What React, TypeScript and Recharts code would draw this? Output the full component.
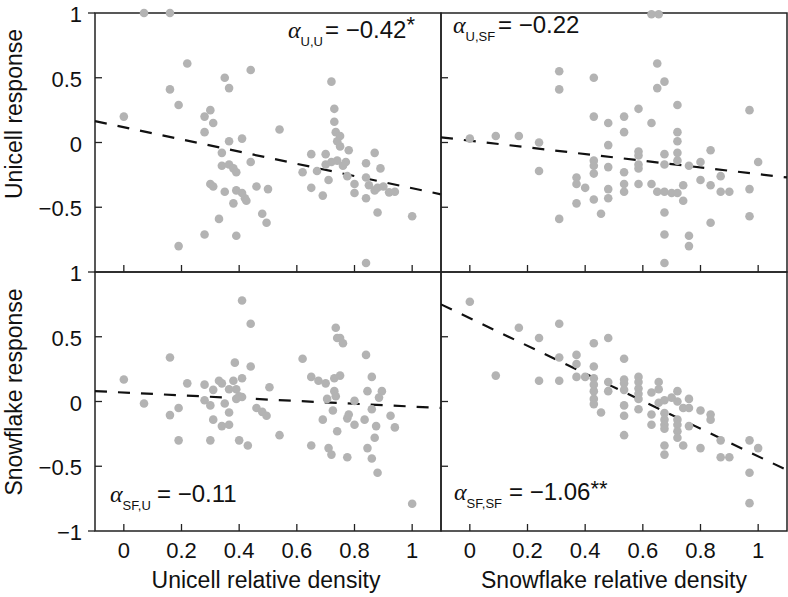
import React from "react";
import { ScatterChart, Scatter, XAxis, YAxis, ReferenceArea, ReferenceLine } from "recharts";

const xTicks = [0, 0.2, 0.4, 0.6, 0.8, 1];
const yTicksTopLeft = [-0.5, 0, 0.5, 1];
const yTicksBottomLeft = [-1, -0.5, 0, 0.5, 1];
const yTicksRight = [-0.5, 0, 0.5];

// fitted lines are drawn across the whole x range
const fitX = [-0.1, 1.1];

// unicell relative density vs unicell response
const uuPoints = [
  [0.07, 1.0], [0.16, 1.0], [0.22, 0.61], [0.44, 0.56], [0.35, 0.5], [0.365, 0.42], [0.16, 0.41],
  [0.19, 0.29], [0.0, 0.2], [0.3, 0.25], [0.28, 0.2], [0.31, 0.15], [0.28, 0.08], [0.365, 0.01],
  [0.41, 0.03], [0.34, -0.08], [0.44, -0.15], [0.34, -0.18], [0.365, -0.17], [0.38, -0.2],
  [0.39, -0.23], [0.3, -0.32], [0.31, -0.34], [0.35, -0.38], [0.39, -0.37], [0.41, -0.39],
  [0.42, -0.43], [0.425, -0.45], [0.38, -0.47], [0.46, -0.34], [0.5, -0.36], [0.48, -0.55],
  [0.495, -0.62], [0.33, -0.59], [0.28, -0.71], [0.39, -0.72], [0.19, -0.8],
  [0.54, 0.1], [0.72, 0.47], [0.73, 0.26], [0.73, 0.16], [0.735, 0.08], [0.75, 0.05], [0.74, 0.01],
  [0.75, -0.03], [0.78, -0.06], [0.65, -0.09], [0.7, -0.09], [0.72, -0.15], [0.7, -0.17],
  [0.74, -0.14], [0.77, -0.15], [0.76, -0.18], [0.62, -0.23], [0.67, -0.22], [0.775, -0.26],
  [0.71, -0.29], [0.65, -0.35], [0.69, -0.41], [0.8, -0.32], [0.8, -0.39], [0.87, -0.08],
  [0.84, -0.16], [0.89, -0.2], [0.84, -0.27], [0.85, -0.33], [0.87, -0.37], [0.88, -0.35],
  [0.9, -0.34], [0.84, -0.43], [0.92, -0.385], [0.94, -0.38], [0.88, -0.54], [1.0, -0.57],
  [0.84, -0.93],
];
const uuFit = [0.165, -0.4];

// snowflake relative density vs unicell response
const usfPoints = [
  [0.0, 0.03], [0.09, 0.05], [0.17, 0.05], [0.24, 0.0], [0.24, -0.22], [0.31, 0.55], [0.31, 0.41],
  [0.31, -0.59], [0.43, 0.5], [0.43, 0.2], [0.43, -0.14], [0.43, -0.18], [0.43, -0.24],
  [0.37, -0.27], [0.37, -0.32], [0.4, -0.35], [0.37, -0.47], [0.43, -0.44], [0.455, -0.55],
  [0.48, 0.15], [0.48, -0.02], [0.48, -0.19], [0.48, -0.36], [0.48, -0.43],
  [0.63, 0.99], [0.655, 0.99], [0.65, 0.61], [0.675, 0.47], [0.65, 0.42], [0.72, 0.29],
  [0.585, 0.26], [0.535, 0.2], [0.63, 0.15], [0.535, 0.08], [0.72, 0.08], [0.72, 0.01],
  [0.585, -0.07], [0.585, -0.1], [0.675, -0.09], [0.72, -0.08], [0.72, -0.14], [0.585, -0.17],
  [0.585, -0.2], [0.675, -0.17], [0.76, -0.18], [0.535, -0.23], [0.535, -0.32], [0.535, -0.38],
  [0.585, -0.32], [0.63, -0.32], [0.65, -0.38], [0.675, -0.38], [0.7, -0.39], [0.72, -0.39],
  [0.74, -0.33], [0.74, -0.45], [0.675, -0.54], [0.675, -0.71], [0.675, -0.93], [0.76, -0.72],
  [0.76, -0.8], [0.8, -0.15], [0.8, -0.29], [0.835, -0.06], [0.835, -0.33], [0.835, -0.62],
  [0.87, -0.26], [0.87, -0.38], [0.9, -0.38], [0.97, 0.25], [1.0, -0.15], [0.97, -0.36],
  [0.97, -0.57],
];
const usfFit = [0.04, -0.27];

// unicell relative density vs snowflake response
const sfuPoints = [
  [0.0, 0.17], [0.07, -0.015], [0.16, 0.34], [0.16, -0.105], [0.19, -0.05], [0.19, -0.3],
  [0.22, 0.14], [0.28, 0.13], [0.28, 0.01], [0.3, -0.03], [0.3, -0.3], [0.31, 0.09], [0.31, -0.14],
  [0.33, 0.16], [0.34, 0.14], [0.34, -0.19], [0.35, -0.015], [0.365, 0.095], [0.365, -0.085],
  [0.365, -0.18], [0.38, 0.16], [0.385, 0.3], [0.39, 0.095], [0.39, 0.02], [0.41, 0.18],
  [0.41, 0.78], [0.44, 0.6], [0.44, 0.27], [0.4, 0.04], [0.41, 0.035], [0.4, -0.3], [0.43, -0.34],
  [0.46, -0.05], [0.48, -0.08], [0.495, -0.11], [0.505, 0.11],
  [0.54, -0.26], [0.62, 0.33], [0.65, 0.19], [0.675, 0.16], [0.7, 0.14], [0.73, 0.18], [0.75, 0.2],
  [0.735, 0.57], [0.74, 0.49], [0.75, 0.49], [0.76, 0.45], [0.73, 0.08], [0.735, 0.04],
  [0.705, 0.02], [0.725, -0.07], [0.69, -0.14], [0.65, -0.34], [0.71, -0.36], [0.72, -0.41],
  [0.74, -0.23], [0.775, -0.13], [0.78, -0.1], [0.775, -0.43], [0.8, 0.005], [0.8, -0.18],
  [0.84, 0.36], [0.86, 0.19], [0.845, 0.08], [0.895, 0.08], [0.885, 0.03], [0.86, -0.06],
  [0.835, -0.14], [0.875, -0.19], [0.87, -0.28], [0.845, -0.36], [0.86, -0.44], [0.88, -0.55],
  [0.925, -0.11], [0.94, -0.2], [1.0, -0.79],
];
const sfuFit = [0.08, -0.05];

// snowflake relative density vs snowflake response
const sfsfPoints = [
  [0.0, 0.77], [0.09, 0.2], [0.17, 0.57], [0.24, 0.49], [0.24, 0.16], [0.31, 0.6], [0.31, 0.34],
  [0.31, 0.16], [0.37, 0.36], [0.37, 0.29], [0.37, 0.19], [0.4, 0.19], [0.43, 0.45], [0.43, 0.27],
  [0.43, 0.18], [0.43, 0.13], [0.43, 0.08], [0.43, 0.02], [0.43, -0.02], [0.455, -0.085],
  [0.48, 0.49], [0.48, 0.15], [0.48, 0.08],
  [0.535, 0.33], [0.535, 0.17], [0.535, 0.14], [0.535, 0.09], [0.535, -0.03], [0.535, -0.11],
  [0.535, -0.26], [0.585, 0.19], [0.585, 0.15], [0.585, 0.1], [0.585, 0.06], [0.585, 0.02],
  [0.585, -0.06], [0.63, 0.07], [0.63, -0.1], [0.63, -0.18], [0.655, 0.15], [0.655, 0.095],
  [0.655, -0.01], [0.675, 0.01], [0.675, -0.09], [0.675, -0.14], [0.675, -0.18], [0.675, -0.21],
  [0.675, -0.34], [0.675, -0.41], [0.7, 0.03], [0.72, 0.08], [0.72, 0.0], [0.72, -0.14],
  [0.72, -0.18], [0.72, -0.23], [0.72, -0.28], [0.74, -0.05], [0.74, -0.34], [0.76, 0.02],
  [0.76, -0.05], [0.76, -0.19], [0.8, -0.07], [0.8, -0.36], [0.835, -0.1], [0.835, -0.14],
  [0.87, -0.3], [0.87, -0.43], [0.9, -0.43], [0.97, -0.3], [1.0, -0.36], [0.97, -0.55],
  [0.97, -0.785],
];
const sfsfFit = [0.75, -0.53];

const PLOT_W = 346;
const PLOT_H = 259;
const DOT = "#b3b3b3";
const INK = "#222";
const FONT = '"Liberation Sans", Arial, Helvetica, sans-serif';

const fmt = (v: number) => (v < 0 ? "\u2212" + Math.abs(v) : String(v));

type PanelProps = {
  points: number[][];
  fit: number[];
  left: number;
  top: number;
  yTicks: number[];
  showX: boolean;
  showY: boolean;
  mL: number;
  mR: number;
  mT: number;
  mB: number;
};

function Panel({ points, fit, left, top, yTicks, showX, showY, mL, mR, mT, mB }: PanelProps) {
  const data = points.map(([x, y]) => ({ x, y }));
  const W = PLOT_W + mL + mR;
  const H = PLOT_H + mT + mB;

  const xTick = (p: any) => (
    <g>
      <line x1={p.x} y1={p.y} x2={p.x} y2={p.y - 7} stroke={INK} strokeWidth={1.3} />
      {showX && (
        <text x={p.x} y={p.y + 27} textAnchor="middle" fontSize={22} fill="#111" fontFamily={FONT}>
          {fmt(p.payload.value)}
        </text>
      )}
    </g>
  );

  const yTick = (p: any) => {
    const v = p.payload.value;
    const edge = Math.abs(v) === 1;
    return (
      <g>
        <line
          x1={edge ? p.x - 7 : p.x}
          y1={p.y}
          x2={edge ? p.x : p.x + 7}
          y2={p.y}
          stroke={INK}
          strokeWidth={1.3}
        />
        {showY && (
          <text x={p.x - 13} y={p.y + 9} textAnchor="end" fontSize={22} fill="#111" fontFamily={FONT}>
            {fmt(v)}
          </text>
        )}
      </g>
    );
  };

  return (
    <div style={{ position: "absolute", left: left - mL, top: top - mT }}>
      <ScatterChart width={W} height={H} margin={{ top: mT, right: mR, bottom: 0, left: 0 }}>
        <XAxis
          type="number"
          dataKey="x"
          domain={[-0.1, 1.1]}
          ticks={xTicks}
          interval={0}
          height={mB}
          axisLine={false}
          tickLine={false}
          tickSize={0}
          tickMargin={0}
          tick={xTick}
        />
        <YAxis
          type="number"
          dataKey="y"
          domain={[-1, 1]}
          ticks={yTicks}
          interval={0}
          width={mL}
          axisLine={false}
          tickLine={false}
          tickSize={0}
          tickMargin={0}
          tick={yTick}
        />
        <ReferenceArea
          x1={-0.1}
          x2={1.1}
          y1={-1}
          y2={1}
          fill="none"
          fillOpacity={0}
          stroke={INK}
          strokeWidth={1.5}
          ifOverflow="visible"
        />
        <Scatter
          data={data}
          isAnimationActive={false}
          shape={(s: any) => <circle cx={s.cx} cy={s.cy} r={4.3} fill={DOT} />}
        />
        <ReferenceLine
          segment={[
            { x: fitX[0], y: fit[0] },
            { x: fitX[1], y: fit[1] },
          ]}
          stroke="#111"
          strokeWidth={2.2}
          strokeDasharray="12 11"
          ifOverflow="visible"
        />
      </ScatterChart>
    </div>
  );
}

export default function App() {
  const txt = { fontFamily: FONT, fill: "#111" };
  const alpha = { fontFamily: '"Liberation Serif", "Times New Roman", serif', fontStyle: "italic" as const };
  return (
    <div style={{ position: "absolute", left: 0, top: 0, width: 788, height: 597, background: "#fff" }}>
      <Panel points={uuPoints} fit={uuFit} left={95} top={13} yTicks={yTicksTopLeft} showX={false} showY
        mL={95} mR={10} mT={12} mB={10} />
      <Panel points={usfPoints} fit={usfFit} left={441} top={13} yTicks={yTicksRight} showX={false} showY={false}
        mL={10} mR={1} mT={12} mB={10} />
      <Panel points={sfuPoints} fit={sfuFit} left={95} top={272} yTicks={yTicksBottomLeft} showX showY
        mL={95} mR={10} mT={12} mB={60} />
      <Panel points={sfsfPoints} fit={sfsfFit} left={441} top={272} yTicks={yTicksRight} showX showY={false}
        mL={10} mR={1} mT={12} mB={60} />

      <svg width={788} height={597} style={{ position: "absolute", left: 0, top: 0, pointerEvents: "none" }}>
        <text transform="translate(22,114) rotate(-90)" textAnchor="middle" fontSize={23} {...txt}>
          Unicell response
        </text>
        <text transform="translate(22,392) rotate(-90)" textAnchor="middle" fontSize={23} {...txt}>
          Snowflake response
        </text>
        <text x={266} y={588} textAnchor="middle" fontSize={23} {...txt}>
          Unicell relative density
        </text>
        <text x={614} y={588} textAnchor="middle" fontSize={23} {...txt}>
          Snowflake relative density
        </text>

        <text x={288} y={38} fontSize={24} {...txt}>
          <tspan {...alpha}>α</tspan>
          <tspan fontSize={13} dy={8}>U,U</tspan>
          <tspan x={325} dy={-8}>= −0.42</tspan>
          <tspan fontSize={22} dy={-6}>*</tspan>
        </text>
        <text x={453} y={33} fontSize={24} {...txt}>
          <tspan {...alpha}>α</tspan>
          <tspan fontSize={13} dy={8}>U,SF</tspan>
          <tspan x={498} dy={-8}>= −0.22</tspan>
        </text>
        <text x={110} y={502} fontSize={24} {...txt}>
          <tspan {...alpha}>α</tspan>
          <tspan fontSize={13} dy={8}>SF,U</tspan>
          <tspan x={157} dy={-8}>= −0.11</tspan>
        </text>
        <text x={454} y={500} fontSize={24} {...txt}>
          <tspan {...alpha}>α</tspan>
          <tspan fontSize={13} dy={8}>SF,SF</tspan>
          <tspan x={509} dy={-8}>= −1.06</tspan>
          <tspan fontSize={22} dy={-4}>**</tspan>
        </text>
      </svg>
    </div>
  );
}
